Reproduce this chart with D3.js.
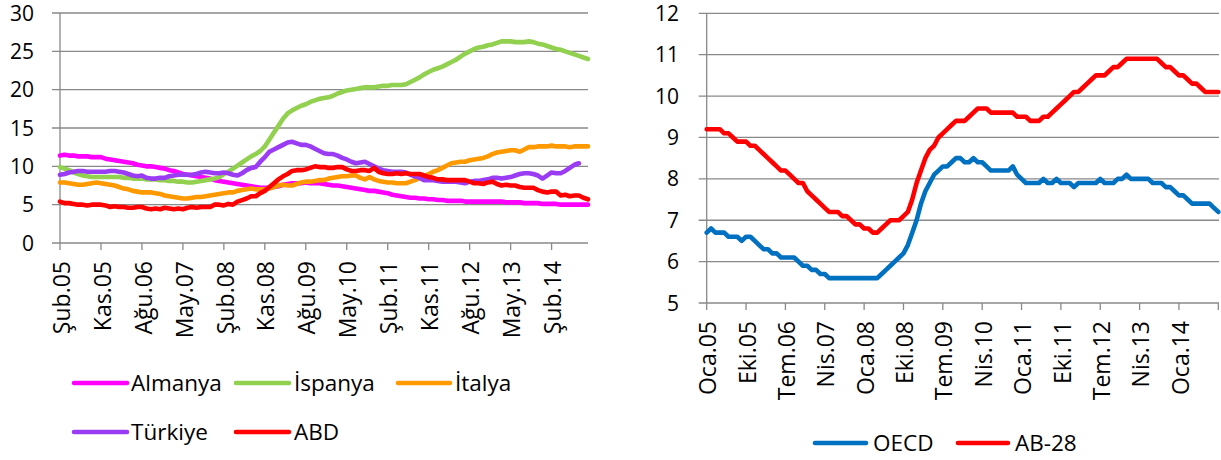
<!DOCTYPE html>
<html><head><meta charset="utf-8">
<script src="https://cdn.jsdelivr.net/npm/d3@7"></script>
<style>
html,body{margin:0;padding:0;background:#fff;}
svg text{font-family:"Open Sans","Noto Sans",sans-serif;fill:#000;}
</style></head>
<body><svg id="c" width="1221" height="460"></svg>
<script>
// ---------- DATA ----------
const monthNames = ["Oca","Şub","Mar","Nis","May","Haz","Tem","Ağu","Eyl","Eki","Kas","Ara"];
function monthRange(y0,m0,y1,m1){const out=[];let y=y0,m=m0;while(y<y1||(y===y1&&m<=m1)){out.push(monthNames[m]+"."+String(y).slice(2));m++;if(m>11){m=0;y++;}}return out;}
const leftCategories = monthRange(2005,1,2014,9);   // Şub.05 .. Eki.14
const rightCategories = monthRange(2005,0,2014,9);  // Oca.05 .. Eki.14

const leftYTicks = [0,5,10,15,20,25,30];
const rightYTicks = [5,6,7,8,9,10,11,12];

const almanya = [11.4,11.5,11.4,11.4,11.3,11.3,11.3,11.2,11.2,11.2,11.0,
 10.9,10.8,10.7,10.6,10.5,10.4,10.2,10.1,10.0,10.0,9.9,9.8,
 9.7,9.5,9.4,9.2,9.0,8.9,8.8,8.7,8.6,8.5,8.4,8.2,
 8.1,8.0,7.9,7.8,7.7,7.6,7.5,7.4,7.3,7.2,7.2,7.2,
 7.3,7.4,7.6,7.7,7.8,7.8,7.8,7.9,7.8,7.8,7.8,7.7,
 7.6,7.5,7.5,7.4,7.3,7.2,7.1,7.0,6.9,6.8,6.8,6.7,
 6.6,6.5,6.3,6.2,6.1,6.0,5.9,5.9,5.8,5.8,5.7,5.7,
 5.6,5.6,5.5,5.5,5.5,5.5,5.4,5.4,5.4,5.4,5.4,5.4,
 5.4,5.4,5.4,5.3,5.3,5.3,5.3,5.2,5.2,5.2,5.2,5.1,
 5.1,5.1,5.1,5.0,5.0,5.0,5.0,5.0,5.0,5.0];
const ispanya = [9.9,9.7,9.5,9.2,9.0,8.8,8.7,8.6,8.6,8.6,8.6,
 8.6,8.6,8.6,8.5,8.5,8.4,8.4,8.4,8.3,8.3,8.3,8.2,
 8.2,8.1,8.1,8.0,8.0,7.9,7.9,8.0,8.1,8.2,8.3,8.4,
 8.6,9.0,9.3,9.7,10.1,10.5,10.9,11.3,11.6,12.0,12.6,13.5,
 14.4,15.3,16.2,16.9,17.3,17.6,17.9,18.1,18.4,18.6,18.8,18.9,
 19.0,19.2,19.5,19.7,19.9,20.0,20.1,20.2,20.3,20.3,20.3,20.4,
 20.5,20.5,20.6,20.6,20.6,20.7,21.0,21.3,21.6,22.0,22.3,22.6,
 22.8,23.0,23.3,23.6,23.9,24.3,24.7,25.0,25.3,25.5,25.6,25.8,
 25.9,26.1,26.3,26.3,26.3,26.2,26.2,26.2,26.3,26.2,26.0,25.9,
 25.7,25.5,25.3,25.2,25.0,24.8,24.6,24.4,24.2,24.0];
const italya = [7.9,7.9,7.8,7.7,7.6,7.6,7.7,7.8,7.9,7.8,7.7,
 7.6,7.5,7.3,7.1,7.0,6.8,6.7,6.6,6.6,6.6,6.5,6.4,
 6.2,6.1,6.0,5.9,5.8,5.8,5.9,6.0,6.0,6.1,6.2,6.3,
 6.4,6.5,6.6,6.6,6.8,6.9,7.0,7.1,7.0,7.0,7.0,7.1,
 7.3,7.5,7.6,7.5,7.5,7.7,7.9,8.0,8.0,8.1,8.2,8.2,
 8.4,8.5,8.6,8.7,8.7,8.8,8.8,8.5,8.3,8.6,8.3,8.1,
 8.0,7.9,7.9,7.8,7.8,7.8,8.0,8.2,8.5,8.7,9.0,9.3,
 9.5,9.8,10.1,10.4,10.5,10.6,10.6,10.8,10.9,11.0,11.1,11.3,
 11.6,11.8,11.9,12.0,12.1,12.1,11.9,12.2,12.5,12.5,12.6,12.6,
 12.6,12.7,12.6,12.6,12.6,12.5,12.6,12.6,12.6,12.6];
const turkiye = [8.9,9.0,9.2,9.3,9.4,9.4,9.3,9.3,9.3,9.3,9.3,
 9.4,9.4,9.3,9.2,9.0,8.8,8.7,8.8,8.5,8.4,8.4,8.5,
 8.5,8.7,8.8,8.9,8.9,8.9,8.9,9.0,9.2,9.3,9.2,9.1,
 9.1,9.2,9.1,8.9,8.8,9.1,9.5,9.8,9.9,10.6,11.2,11.9,
 12.2,12.5,12.8,13.1,13.2,13.0,12.8,12.8,12.6,12.3,12.0,11.7,
 11.6,11.6,11.4,11.1,10.9,10.6,10.4,10.5,10.6,10.3,10.0,9.7,
 9.5,9.4,9.3,9.3,9.3,9.2,8.9,8.7,8.5,8.2,8.2,8.2,
 8.1,8.0,8.0,8.0,8.0,7.9,7.8,8.0,8.1,8.1,8.2,8.3,
 8.5,8.5,8.4,8.5,8.6,8.8,9.0,9.1,9.1,9.0,8.8,8.4,
 8.8,9.2,9.1,9.1,9.4,9.8,10.2,10.4];
const abd = [5.4,5.2,5.2,5.1,5.0,5.0,4.9,5.0,5.0,5.0,4.9,
 4.7,4.8,4.7,4.7,4.6,4.6,4.7,4.7,4.5,4.4,4.5,4.4,
 4.6,4.5,4.4,4.5,4.4,4.6,4.7,4.6,4.7,4.7,4.7,5.0,
 5.0,4.9,5.1,5.0,5.4,5.6,5.8,6.1,6.1,6.5,6.8,7.3,
 7.8,8.3,8.7,9.0,9.4,9.5,9.5,9.6,9.8,10.0,9.9,9.9,
 9.8,9.8,9.9,9.9,9.6,9.4,9.4,9.5,9.5,9.4,9.8,9.3,
 9.1,9.0,9.0,9.1,9.0,9.1,9.0,9.0,9.0,8.8,8.6,8.5,
 8.3,8.3,8.2,8.2,8.2,8.2,8.2,8.0,7.8,7.8,7.7,7.9,
 8.0,7.7,7.5,7.6,7.5,7.5,7.3,7.2,7.2,7.2,6.9,6.7,
 6.6,6.7,6.7,6.2,6.3,6.1,6.2,6.2,5.9,5.7];

const oecd = [6.7,6.8,6.7,6.7,6.7,6.6,6.6,6.6,6.5,6.6,6.6,6.5,
 6.4,6.3,6.3,6.2,6.2,6.1,6.1,6.1,6.1,6.0,5.9,5.9,
 5.8,5.8,5.7,5.7,5.6,5.6,5.6,5.6,5.6,5.6,5.6,5.6,
 5.6,5.6,5.6,5.6,5.7,5.8,5.9,6.0,6.1,6.2,6.4,6.7,
 7.0,7.4,7.7,7.9,8.1,8.2,8.3,8.3,8.4,8.5,8.5,8.4,
 8.4,8.5,8.4,8.4,8.3,8.2,8.2,8.2,8.2,8.2,8.3,8.1,
 8.0,7.9,7.9,7.9,7.9,8.0,7.9,7.9,8.0,7.9,7.9,7.9,
 7.8,7.9,7.9,7.9,7.9,7.9,8.0,7.9,7.9,7.9,8.0,8.0,
 8.1,8.0,8.0,8.0,8.0,8.0,7.9,7.9,7.9,7.8,7.8,7.7,
 7.6,7.6,7.5,7.4,7.4,7.4,7.4,7.4,7.3,7.2];
const ab28 = [9.2,9.2,9.2,9.2,9.1,9.1,9.0,8.9,8.9,8.9,8.8,8.8,
 8.7,8.6,8.5,8.4,8.3,8.2,8.2,8.1,8.0,7.9,7.9,7.7,
 7.6,7.5,7.4,7.3,7.2,7.2,7.2,7.1,7.1,7.0,6.9,6.9,
 6.8,6.8,6.7,6.7,6.8,6.9,7.0,7.0,7.0,7.1,7.2,7.5,
 7.9,8.2,8.5,8.7,8.8,9.0,9.1,9.2,9.3,9.4,9.4,9.4,
 9.5,9.6,9.7,9.7,9.7,9.6,9.6,9.6,9.6,9.6,9.6,9.5,
 9.5,9.5,9.4,9.4,9.4,9.5,9.5,9.6,9.7,9.8,9.9,10.0,
 10.1,10.1,10.2,10.3,10.4,10.5,10.5,10.5,10.6,10.7,10.7,10.8,
 10.9,10.9,10.9,10.9,10.9,10.9,10.9,10.9,10.8,10.7,10.7,10.6,
 10.5,10.5,10.4,10.3,10.3,10.2,10.1,10.1,10.1,10.1];

const leftSeries = [
  {name:"Almanya", values:almanya, color:"#FF00FF"},
  {name:"İspanya", values:ispanya, color:"#92D050"},
  {name:"İtalya", values:italya, color:"#FF9900"},
  {name:"Türkiye", values:turkiye, color:"#9B3CF5"},
  {name:"ABD", values:abd, color:"#FF0000"}
];
const rightSeries = [
  {name:"OECD", values:oecd, color:"#0070C0"},
  {name:"AB-28", values:ab28, color:"#FF0000"}
];

// ---------- DRAW ----------
const svg = d3.select("#c");
const gridColor = "#898989";
const FS_Y = 21, FS_X = 23, FS_L = 22.5;

function drawPanel(cfg){
  const g = svg.append("g");
  const x = d3.scalePoint().domain(cfg.categories).range([cfg.left, cfg.right]);
  const y = d3.scaleLinear().domain(cfg.yDomain).range([cfg.bottom, cfg.top]);
  g.selectAll("line.grid").data(cfg.yTicks).join("line")
    .attr("x1", cfg.left-8).attr("x2", cfg.plotRight)
    .attr("y1", d=>y(d)).attr("y2", d=>y(d))
    .attr("stroke", gridColor).attr("stroke-width", 1.3);
  g.selectAll("text.yl").data(cfg.yTicks).join("text")
    .attr("x", cfg.yLabelX).attr("y", d=>y(d)).attr("dy","0.36em")
    .attr("text-anchor","end").attr("font-size", FS_Y).text(d=>d);
  g.append("line").attr("x1",cfg.left).attr("x2",cfg.left)
    .attr("y1",cfg.top).attr("y2",cfg.bottom).attr("stroke",gridColor).attr("stroke-width",1.3);
  const tickCats = cfg.categories.filter((d,i)=>i%9===0);
  g.selectAll("line.xt").data(tickCats).join("line")
    .attr("x1",d=>x(d)).attr("x2",d=>x(d))
    .attr("y1",cfg.bottom).attr("y2",cfg.bottom+7)
    .attr("stroke",gridColor).attr("stroke-width",1.3);
  const labelCats = tickCats.slice(0,13);
  g.selectAll("text.xl").data(labelCats).join("text")
    .attr("transform", d=>`translate(${x(d)},${cfg.bottom+18}) rotate(-90)`)
    .attr("dy","0.42em").attr("text-anchor","end").attr("font-size", FS_X).text(d=>d);
  const line = d3.line()
    .defined(d=>d!=null)
    .x((d,i)=>x(cfg.categories[i])).y(d=>y(d));
  cfg.series.forEach(s=>{
    g.append("path").datum(s.values).attr("d", line)
      .attr("fill","none").attr("stroke", s.color).attr("stroke-width",4.6)
      .attr("stroke-linejoin","round").attr("stroke-linecap","round");
  });
  cfg.legend.forEach((L,k)=>{
    const s = cfg.series[k];
    g.append("line").attr("x1",L[0]).attr("x2",L[1]).attr("y1",L[2]).attr("y2",L[2])
      .attr("stroke",s.color).attr("stroke-width",4.6).attr("stroke-linecap","round");
    g.append("text").attr("x",L[3]).attr("y",L[2]).attr("dy","0.36em")
      .attr("font-size",FS_L).text(s.name);
  });
}

drawPanel({
  categories:leftCategories, series:leftSeries, yDomain:[0,30], yTicks:leftYTicks,
  left:60, right:588, plotRight:588, top:13, bottom:243, yLabelX:34,
  legend:[[74,127,383,131],[236,289,383,294],[398,450,383,455],[74,127,432,131],[236,289,432,294]]
});
drawPanel({
  categories:rightCategories, series:rightSeries, yDomain:[5,12], yTicks:rightYTicks,
  left:706.7, right:1218.3, plotRight:1219, top:13.3, bottom:303, yLabelX:679,
  legend:[[815,866,443,873],[958,1008,443,1015]]
});
</script></body></html>
